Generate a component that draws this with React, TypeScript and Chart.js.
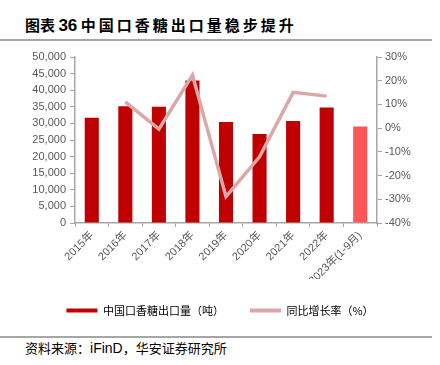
import React, { useEffect, useRef } from "react";
import { Chart, registerables } from "chart.js";

Chart.register(...registerables);

const categories = [
  "2015年",
  "2016年",
  "2017年",
  "2018年",
  "2019年",
  "2020年",
  "2021年",
  "2022年",
  "2023年(1-9月)",
];
const exportVolume = [31700, 35200, 35000, 42900, 30400, 26800, 30700, 34800, 29100];
const yoyGrowth = [null, 11.1, -0.4, 22.4, -28.9, -12.1, 15.1, 13.5, null];
const barColors = ["#C00000", "#C00000", "#C00000", "#C00000", "#C00000", "#C00000", "#C00000", "#C00000", "#FF5757"];
const leftTicks = { min: 0, max: 50000, step: 5000 };
const rightTicks = { min: -40, max: 30, step: 10 };
const seriesNames = ["中国口香糖出口量（吨）", "同比增长率（%）"];

const FONT = "'Liberation Sans', Arial, 'Noto Sans CJK SC', sans-serif";
const GRAY = "#595959";
const AXIS = "#A6A6A6";

export default function App() {
  const ref = useRef<HTMLCanvasElement | null>(null);

  useEffect(() => {
    if (!ref.current) return;
    const chart = new Chart(ref.current, {
      data: {
        labels: categories,
        datasets: [
          {
            type: "line",
            label: seriesNames[1],
            data: yoyGrowth,
            yAxisID: "y1",
            borderColor: "#DCA7A7",
            backgroundColor: "#DCA7A7",
            borderWidth: 3.5,
            pointRadius: 0,
            tension: 0,
            order: 0,
          },
          {
            type: "bar",
            label: seriesNames[0],
            data: exportVolume,
            yAxisID: "y",
            backgroundColor: barColors,
            barPercentage: 0.42,
            categoryPercentage: 1,
            order: 1,
          },
        ],
      } as any,
      options: {
        animation: false,
        responsive: false,
        maintainAspectRatio: false,
        layout: { padding: { top: 12, bottom: 0, left: 0, right: 0 } },
        plugins: {
          tooltip: { enabled: false },
          legend: {
            position: "bottom",
            labels: {
              boxWidth: 31,
              boxHeight: 4,
              padding: 26,
              color: GRAY,
              font: { family: "'Noto Sans CJK SC', sans-serif", size: 11 },
              generateLabels: () => [
                { text: seriesNames[0], fillStyle: "#C00000", strokeStyle: "#C00000", lineWidth: 0, datasetIndex: 1 },
                { text: seriesNames[1], fillStyle: "#DCA7A7", strokeStyle: "#DCA7A7", lineWidth: 0, datasetIndex: 0 },
              ],
            },
          },
        },
        scales: {
          x: {
            offset: true,
            grid: { display: true, drawOnChartArea: false, offset: true, tickLength: 4, color: AXIS },
            border: { display: true, color: AXIS, width: 1.5 },
            ticks: {
              color: GRAY,
              font: { family: FONT, size: 11 },
              minRotation: 45,
              maxRotation: 45,
              autoSkip: false,
              padding: 2,
            },
            afterFit: (s: any) => {
              s.height = 56;
            },
          },
          y: {
            position: "left",
            min: leftTicks.min,
            max: leftTicks.max,
            grid: { display: true, drawOnChartArea: false, tickLength: 5, color: AXIS },
            border: { display: true, color: AXIS, width: 1.5 },
            ticks: {
              stepSize: leftTicks.step,
              autoSkip: false,
              color: GRAY,
              font: { family: FONT, size: 11 },
              padding: 4,
              callback: (v: any) => Number(v).toLocaleString("en-US"),
            },
            afterFit: (s: any) => {
              s.width = 75;
            },
          },
          y1: {
            position: "right",
            min: rightTicks.min,
            max: rightTicks.max,
            grid: { display: true, drawOnChartArea: false, tickLength: 5, color: AXIS },
            border: { display: true, color: AXIS, width: 1.5 },
            ticks: {
              stepSize: rightTicks.step,
              autoSkip: false,
              color: GRAY,
              font: { family: FONT, size: 11 },
              padding: 3,
              callback: (v: any) => v + "%",
            },
            afterFit: (s: any) => {
              s.width = 63;
            },
          },
        },
      },
    });
    return () => chart.destroy();
  }, []);

  return (
    <div style={{ position: "fixed", left: 0, top: 0, width: 440, height: 365, background: "#fff", overflow: "hidden" }}>
      <div
        style={{
          position: "absolute",
          left: 25,
          top: 15,
          fontFamily: "'Noto Sans CJK SC', sans-serif",
          fontWeight: 700,
          fontSize: 15,
          lineHeight: "20px",
          color: "#000",
          whiteSpace: "nowrap",
        }}
      >
        图表 <span style={{ fontFamily: "'Liberation Sans', Arial, sans-serif", fontSize: 17 }}>36</span>{" "}
        <span style={{ letterSpacing: 3 }}>中国口香糖出口量稳步提升</span>
      </div>
      <div style={{ position: "absolute", left: 0, top: 39, width: 432, height: 2, background: "#A6A6A6" }} />
      <canvas ref={ref} width={440} height={281} style={{ position: "absolute", left: 0, top: 45, width: 440, height: 281 }} />
      <div style={{ position: "absolute", left: 0, top: 336, width: 432, height: 2, background: "#A6A6A6" }} />
      <div
        style={{
          position: "absolute",
          left: 25,
          top: 339,
          fontFamily: "'Noto Sans CJK SC', sans-serif",
          fontSize: 13,
          lineHeight: "17px",
          color: "#000",
          whiteSpace: "nowrap",
        }}
      >
        资料来源：<span style={{ fontFamily: "'Liberation Sans', Arial, sans-serif", fontSize: 14 }}>iFinD</span>，华安证券研究所
      </div>
    </div>
  );
}
